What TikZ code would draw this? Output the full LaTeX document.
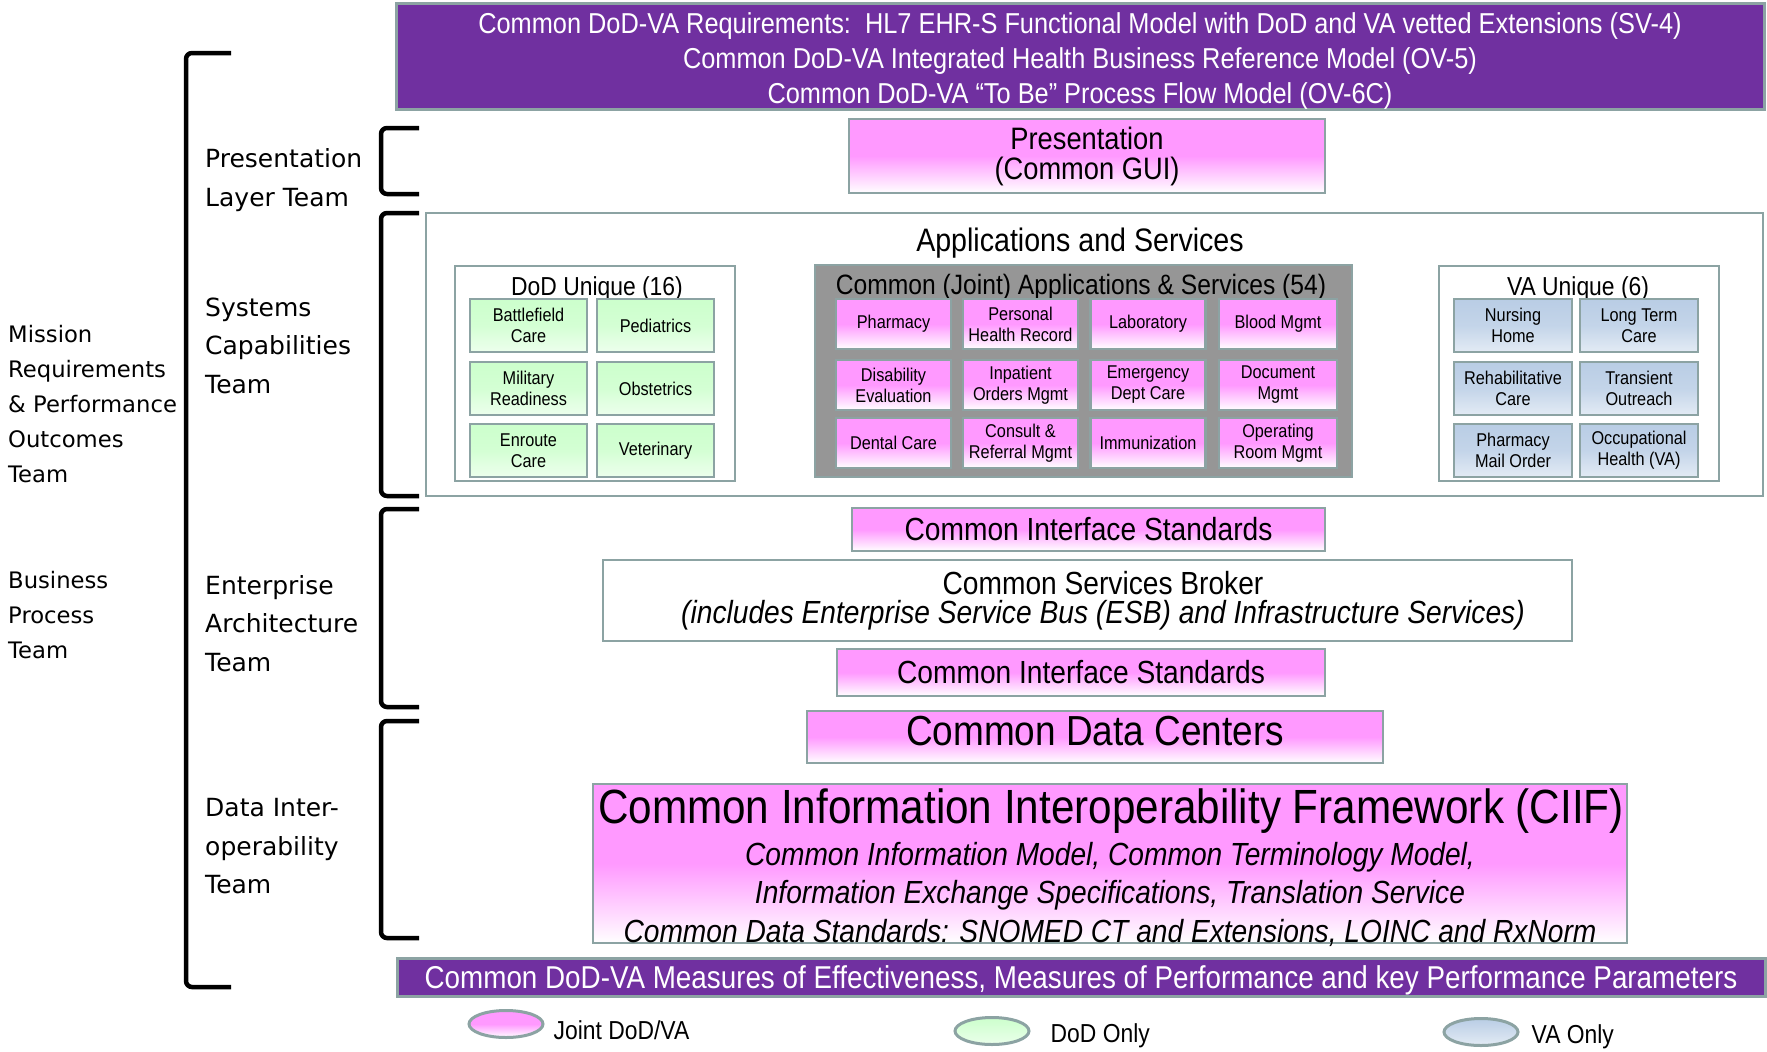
\documentclass[tikz,border=0pt]{standalone}
\usepackage{fontspec}
\usepackage{xcolor}
\usepackage{tikz}
\usetikzlibrary{positioning,shapes.geometric}

\setmainfont{Liberation Sans}[FakeStretch=0.88]
\newfontfamily\teamfont{DejaVu Sans}
\newcommand{\fsz}[2]{\fontsize{#1}{#2}\selectfont}

\definecolor{jvpurple}{RGB}{112,48,160}
\definecolor{edgegray}{RGB}{140,163,163}
\definecolor{pinkfill}{RGB}{255,153,255}
\definecolor{greenfill}{RGB}{204,255,204}
\definecolor{vafill}{RGB}{185,205,229}
\definecolor{jointgray}{RGB}{150,150,150}

\begin{document}
\begin{tikzpicture}[x=1pt, y=-1pt,
  box/.style={draw=edgegray, line width=2.5pt, inner sep=0pt, align=center},
  band/.style={box, fill=jvpurple, line width=3pt},
  joint/.style={box, top color=pinkfill, bottom color=white, middle color=pinkfill},
  frame/.style={draw=edgegray, line width=1.5pt, fill=white, inner sep=0pt},
  dodcell/.style={box, top color=greenfill, bottom color=greenfill!35, middle color=greenfill!85,
    minimum width=117pt, minimum height=53pt, font=\fsz{18.5}{21}},
  vacell/.style={box, top color=vafill, bottom color=vafill!40, middle color=vafill!85,
    minimum width=118pt, minimum height=53pt, font=\fsz{18.5}{21}},
  jcell/.style={joint, minimum width=115pt, minimum height=50pt, font=\fsz{18.5}{21}},
  legend/.style={ellipse, draw=edgegray, line width=3pt, minimum width=74pt, minimum height=27pt},
  brace/.style={line width=4.5pt, rounded corners=6pt},
  team/.style={anchor=west, align=left, inner sep=0pt, font=\teamfont\fsz{25}{38.5}}]
  \useasboundingbox (0,0) rectangle (1767,1052);

  % requirements band on top
  \node[band, minimum width=1368pt, minimum height=106pt] (req) at (1080,56) {};
  \node[text=white, align=center, font=\fsz{28.8}{35}] (reqtext) at (1080,61)
    {Common DoD-VA Requirements:\ \ HL7 EHR-S Functional Model with DoD and VA vetted Extensions (SV-4)\\
     Common DoD-VA Integrated Health Business Reference Model (OV-5)\\
     Common DoD-VA ``To Be'' Process Flow Model (OV-6C)};

  % presentation layer
  \node[joint, minimum width=476pt, minimum height=74pt, font=\fsz{31}{30}] (pres) at (1087,156)
    {Presentation\\(Common GUI)};

  % applications and services
  \node[frame, minimum width=1337pt, minimum height=283pt] (apps) at (1094.5,354.5) {};
  \node[font=\fsz{32.5}{32}] (apptitle) at (1080,243) {Applications and Services};

  \node[frame, minimum width=280pt, minimum height=215pt] (dodbox) at (595,373.5) {};
  \node[font=\fsz{26}{26}] (dodtitle) at (597,289) {DoD Unique (16)};
  \node[dodcell] (batt) at (528.5,325.5) {Battlefield\\Care};
  \node[dodcell] (pedi) at (655.5,325.5) {Pediatrics};
  \node[dodcell] (mil)  at (528.5,388.5) {Military\\Readiness};
  \node[dodcell] (obst) at (655.5,388.5) {Obstetrics};
  \node[dodcell] (enr)  at (528.5,450.5) {Enroute\\Care};
  \node[dodcell] (vet)  at (655.5,450.5) {Veterinary};

  \node[box, fill=jointgray, line width=2pt, minimum width=537pt, minimum height=212pt] (jbox) at (1083.5,371) {};
  \node[font=\fsz{28}{28}] (jtitle) at (1081,287) {Common (Joint) Applications \& Services (54)};
  \node[jcell] (pharm)   at (893.5,324)  {Pharmacy};
  \node[jcell] (phr)     at (1020.5,324) {Personal\\Health Record};
  \node[jcell] (lab)     at (1148,324)   {Laboratory};
  \node[jcell, minimum width=118pt] (blood) at (1278,324) {Blood Mgmt};
  \node[jcell] (disab)   at (893.5,385)  {Disability\\Evaluation};
  \node[jcell] (inpat)   at (1020.5,385) {Inpatient\\Orders Mgmt};
  \node[jcell] (emerg)   at (1148,385)   {Emergency\\Dept Care};
  \node[jcell, minimum width=118pt] (docmgmt) at (1278,385) {Document\\Mgmt};
  \node[jcell] (dental)  at (893.5,443)  {Dental Care};
  \node[jcell] (consult) at (1020.5,443) {Consult \&\\Referral Mgmt};
  \node[jcell] (immun)   at (1148,443)   {Immunization};
  \node[jcell, minimum width=118pt] (oproom) at (1278,443) {Operating\\Room Mgmt};

  \node[frame, minimum width=280pt, minimum height=215pt] (vabox) at (1579,373.5) {};
  \node[font=\fsz{26}{26}] (vatitle) at (1578,289) {VA Unique (6)};
  \node[vacell] (nurs)  at (1513,325.5) {Nursing\\Home};
  \node[vacell] (ltc)   at (1639,325.5) {Long Term\\Care};
  \node[vacell] (rehab) at (1513,388.5) {Rehabilitative\\Care};
  \node[vacell] (trans) at (1639,388.5) {Transient\\Outreach};
  \node[vacell] (mail)  at (1513,450.5) {Pharmacy\\Mail Order};
  \node[vacell] (occ)   at (1639,450.5) {Occupational\\Health (VA)};

  % enterprise layer
  \node[joint, minimum width=473pt, minimum height=43pt, font=\fsz{32}{32}] (cis1) at (1088.5,529.5)
    {Common Interface Standards};
  \node[box, fill=white, minimum width=969pt, minimum height=81pt] (csb) at (1087.5,600.5) {};
  \node[align=center, font=\fsz{32}{29}] (csbtext) at (1103,601)
    {Common Services Broker\\\textit{(includes Enterprise Service Bus (ESB) and Infrastructure Services)}};
  \node[joint, minimum width=488pt, minimum height=47pt, font=\fsz{32}{32}] (cis2) at (1081,672.5)
    {Common Interface Standards};

  % data layer
  \node[joint, minimum width=576pt, minimum height=52pt] (cdc) at (1095,737) {};
  \node[font=\fsz{42}{42}] (cdctext) at (1095,731) {Common Data Centers};
  \node[joint, minimum width=1034pt, minimum height=159pt] (ciif) at (1110,863.5) {};
  \node[font=\fsz{48}{48}] (ciiftitle) at (1111,811) {Common Information Interoperability Framework (CIIF)};
  \node[align=center, font=\fsz{32}{38.5}\itshape] (ciifsub) at (1110,894)
    {Common Information Model, Common Terminology Model,\\
     Information Exchange Specifications, Translation Service\\
     Common Data Standards: SNOMED CT and Extensions, LOINC and RxNorm};

  % measures band at the bottom
  \node[band, minimum width=1368pt, minimum height=38pt] (moe) at (1081,977) {};
  \node[text=white, font=\fsz{31.6}{32}] (moetext) at (1081,980)
    {Common DoD-VA Measures of Effectiveness, Measures of Performance and key Performance Parameters};

  % legend
  \node[legend, top color=pinkfill, bottom color=white, middle color=pinkfill] (legj) at (506,1024) {};
  \node[legend, top color=greenfill, bottom color=greenfill!40] (legd) at (992,1031) {};
  \node[legend, top color=vafill, bottom color=vafill!40] (legv) at (1481,1032) {};
  \node[right=9pt of legj, yshift=-6pt, inner sep=0pt, font=\fsz{26}{26}] (legjt) {Joint DoD/VA};
  \node[right=20pt of legd, yshift=-5pt, inner sep=0pt, font=\fsz{26}{26}] (legdt) {DoD Only};
  \node[right=12pt of legv, yshift=-5pt, inner sep=0pt, font=\fsz{26}{26}] (legvt) {VA Only};

  % team brackets
  \draw[brace] (231,53) -- (186,53) -- (186,987) -- (231,987);
  \draw[brace] (419,128) -- (381,128) -- (381,194) -- (419,194);
  \draw[brace] (419,213) -- (381,213) -- (381,496) -- (419,496);
  \draw[brace] (419,509) -- (381,509) -- (381,707) -- (419,707);
  \draw[brace] (419,721) -- (381,721) -- (381,938) -- (419,938);

  % team names
  \node[team, font=\teamfont\fsz{22.7}{35}] (mission) at (8,404)
    {Mission\\Requirements\\\& Performance\\Outcomes\\Team};
  \node[team, font=\teamfont\fsz{22.7}{35}] (business) at (8,615) {Business\\Process\\Team};
  \node[team] (presteam) at (205,180) {Presentation\\Layer Team};
  \node[team] (systeam) at (205,345.5) {Systems\\Capabilities\\Team};
  \node[team] (entteam) at (205,623.5) {Enterprise\\Architecture\\Team};
  \node[team] (datateam) at (205,846.5) {Data Inter-\\operability\\Team};
\end{tikzpicture}
\end{document}
